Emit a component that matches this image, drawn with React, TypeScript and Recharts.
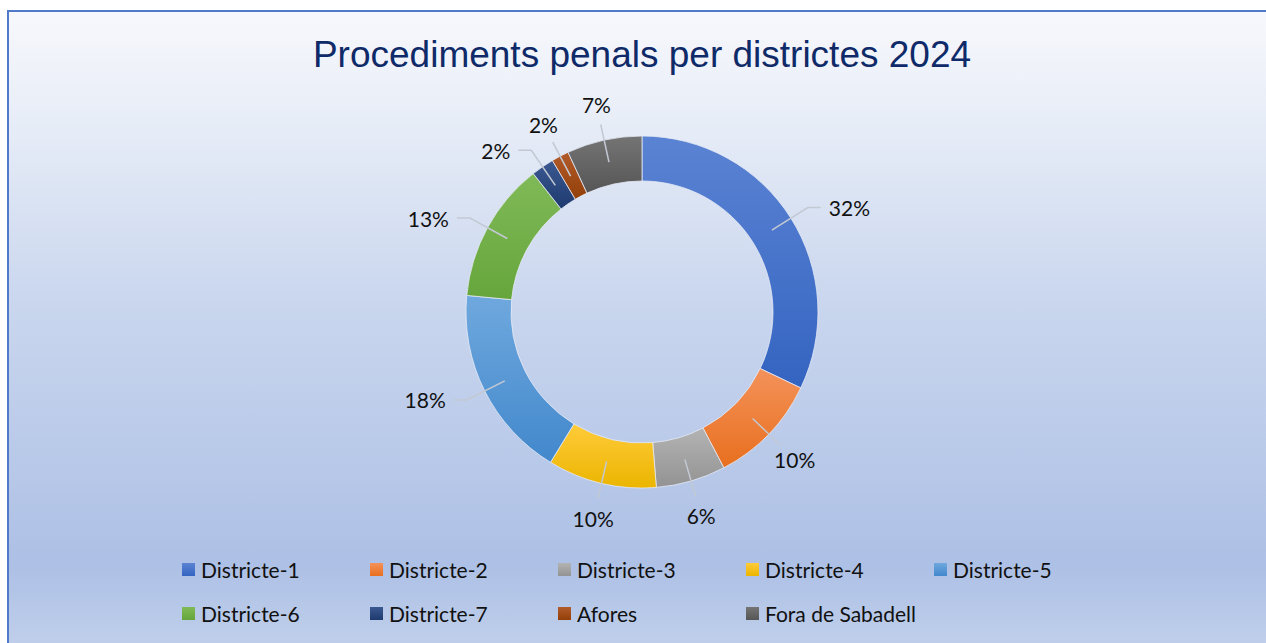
import * as React from 'react';
import { PieChart, Pie, Cell, Legend } from 'recharts';

const categories = [
	'Districte-1',
	'Districte-2',
	'Districte-3',
	'Districte-4',
	'Districte-5',
	'Districte-6',
	'Districte-7',
	'Afores',
	'Fora de Sabadell'
];

// share of procedures (%)
const shares = [32.1, 10.2, 6.4, 10.0, 17.8, 12.9, 2.1, 1.6, 6.9];

const title = 'Procediments penals per districtes 2024';

// [top, bottom] of each slice's gradient, Office style
const Colors = [
	['#5b83d3', '#3464c1'],
	['#f4925a', '#e86f1e'],
	['#b3b3b3', '#939393'],
	['#ffcb3a', '#ebb500'],
	['#6fa8de', '#4288cc'],
	['#80ba58', '#66a53c'],
	['#3b5991', '#1e3a6f'],
	['#b15b2b', '#933f08'],
	['#747474', '#565656']
];

const data = categories.map((name, i) => ({ name, value: shares[i] }));

const RAD = Math.PI / 180;
const CX = 642;
const CY = 312;
const INNER = 131;
const OUTER = 176;

const renderLabel = (props: any) => {
	const { midAngle, percent, index } = props;
	const ux = Math.cos(-midAngle * RAD);
	const uy = Math.sin(-midAngle * RAD);
	const mid = (INNER + OUTER) / 2;
	const sx = CX + mid * ux;
	const sy = CY + mid * uy;
	const text = `${Math.round(percent * 100)}%`;
	const side = Math.abs(ux) > 0.85 || (Math.abs(ux) > 0.55 && uy < 0.5);

	if (side) {
		const ex = CX + 196 * ux;
		const ey = CY + 196 * uy;
		const dir = ux > 0 ? 1 : -1;
		const hx = ex + dir * 13;
		return (
			<g key={`lbl-${index}`}>
				<polyline
					points={`${sx},${sy} ${ex},${ey} ${hx},${ey}`}
					fill="none"
					stroke="#c3c9d3"
					strokeWidth={1.5}
				/>
				<text
					x={hx + dir * 8}
					y={ey}
					textAnchor={dir > 0 ? 'start' : 'end'}
					dominantBaseline="central"
					fontFamily="Lato, sans-serif"
					fontSize={21}
					fill="#111"
				>
					{text}
				</text>
			</g>
		);
	}

	const ex = CX + 192 * ux;
	const ey = CY + 192 * uy;
	const tx = CX + 212 * ux;
	const ty = CY + 212 * uy;
	return (
		<g key={`lbl-${index}`}>
			<line x1={sx} y1={sy} x2={ex} y2={ey} stroke="#c3c9d3" strokeWidth={1.5} />
			<text
				x={tx}
				y={ty}
				textAnchor="middle"
				dominantBaseline="central"
				fontFamily="Lato, sans-serif"
				fontSize={21}
				fill="#111"
			>
				{text}
			</text>
		</g>
	);
};

const renderLegend = () => (
	<div
		style={{
			display: 'grid',
			gridTemplateColumns: 'repeat(5, 188px)',
			rowGap: 22,
			fontFamily: 'Lato, sans-serif',
			fontSize: 21,
			color: '#111'
		}}
	>
		{categories.map((name, i) => (
			<div
				key={`leg-${i}`}
				style={{ display: 'flex', alignItems: 'center', height: 22 }}
			>
				<span
					style={{
						display: 'inline-block',
						width: 13,
						height: 13,
						marginRight: 6,
						background: `linear-gradient(${Colors[i][0]}, ${Colors[i][1]})`
					}}
				/>
				<span>{name}</span>
			</div>
		))}
	</div>
);

export default function App() {
	return (
		<div
			style={{
				position: 'fixed',
				left: 0,
				top: 0,
				width: 1266,
				height: 643,
				overflow: 'hidden',
				background: '#fff'
			}}
		>
			<div
				style={{
					position: 'absolute',
					left: 7,
					top: 10,
					width: 1280,
					height: 650,
					border: '2.5px solid #5079c9',
					background:
						'linear-gradient(#f7f8fc 0%, #e6ecf7 18%, #c9d6ee 45%, #adc0e5 85%, #c3d2ec 100%)'
				}}
			/>
			<svg
				width={1266}
				height={100}
				style={{ position: 'absolute', left: 0, top: 0 }}
			>
				<text
					x={642}
					y={67}
					textAnchor="middle"
					fontFamily="'Liberation Sans', Arial, sans-serif"
					fontSize={37}
					fill="#0f2a68"
				>
					{title}
				</text>
			</svg>
			<div style={{ position: 'absolute', left: 0, top: 0 }}>
				<PieChart
					width={1266}
					height={643}
					margin={{ top: 0, right: 0, bottom: 0, left: 0 }}
				>
					<defs>
						{Colors.map((c, i) => (
							<linearGradient key={`g${i}`} id={`g${i}`} x1="0" y1="0" x2="0" y2="1">
								<stop offset="0%" stopColor={c[0]} />
								<stop offset="100%" stopColor={c[1]} />
							</linearGradient>
						))}
					</defs>
					<Pie
						data={data}
						dataKey="value"
						nameKey="name"
						cx={CX}
						cy={CY}
						innerRadius={INNER}
						outerRadius={OUTER}
						startAngle={90}
						endAngle={-270}
						stroke="#e4eaf5"
						strokeWidth={0.8}
						label={renderLabel}
						labelLine={false}
						isAnimationActive={false}
					>
						{data.map((d, i) => (
							<Cell key={d.name} fill={`url(#g${i})`} />
						))}
					</Pie>
					<Legend
						content={renderLegend}
						wrapperStyle={{ left: 182, top: 558, width: 940, bottom: 'auto' }}
					/>
				</PieChart>
			</div>
		</div>
	);
}
